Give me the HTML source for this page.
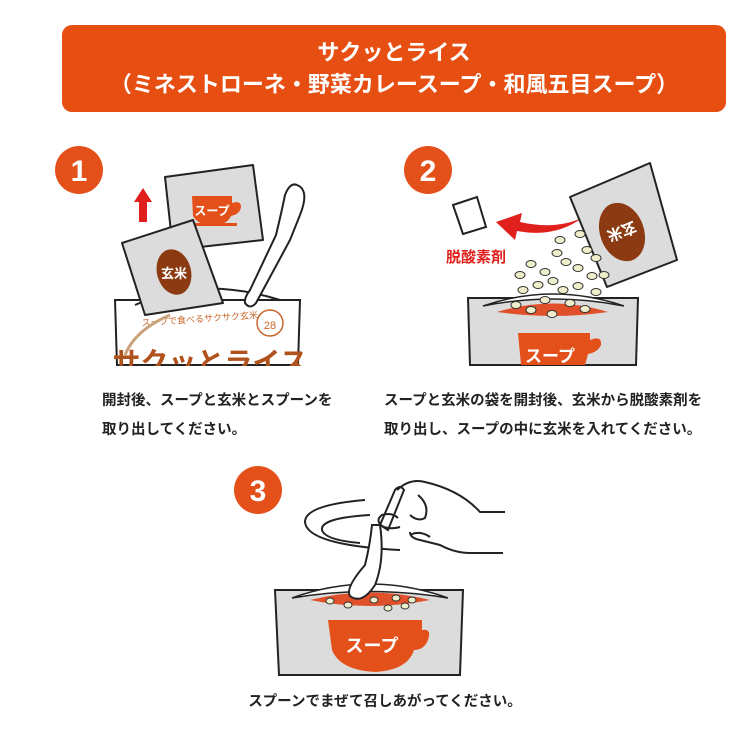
<!DOCTYPE html>
<html><head><meta charset="utf-8"><style>
body{margin:0;background:#fff;width:750px;height:750px;overflow:hidden}
svg{display:block}
text{font-family:"Liberation Sans","Noto Sans CJK JP",sans-serif}
</style></head><body>
<svg width="750" height="750" viewBox="0 0 750 750" xmlns="http://www.w3.org/2000/svg">
<defs><clipPath id="c1"><rect x="0" y="0" width="750" height="366"/></clipPath></defs>
<rect x="62" y="25" width="664" height="87" rx="10" fill="#e64e12"/>
<text x="394" y="60" font-size="22" font-weight="bold" fill="#fff" text-anchor="middle">サクッとライス</text>
<text x="394" y="92" font-size="22" font-weight="bold" fill="#fff" text-anchor="middle">（ミネストローネ・野菜カレースープ・和風五目スープ）</text>

<!-- Step 1 -->
<circle cx="79" cy="170" r="24" fill="#e4501a"/>
<text x="79" y="181" font-size="30" font-weight="bold" fill="#fff" text-anchor="middle">1</text>
<path d="M143 188 L134 202 L139 202 L139 222 L147 222 L147 202 L152 202 Z" fill="#e0201c"/>
<polygon points="165,177 253,165 263,240 173,250" fill="#dcdcdc" stroke="#222" stroke-width="2" stroke-linejoin="round"/>
<path d="M192 196 H232 V203 Q241 200 241 207 Q240 214 231 216 Q227 225 212 226 Q198 225 193 216 Z" fill="#e4501a"/>
<rect x="193" y="223" width="44" height="3" fill="#e4501a"/>
<text x="212" y="215" font-size="12" font-weight="bold" fill="#fff" text-anchor="middle">スープ</text>
<path d="M115 300 L300 300 L298 365 L117 365 Z" fill="#fff" stroke="#222" stroke-width="2"/>
<path d="M135 305 Q200 275 280 300" fill="none" stroke="#222" stroke-width="2"/>
<polygon points="122,243 193,220 223,303 145,315" fill="#dcdcdc" stroke="#222" stroke-width="2" stroke-linejoin="round"/>
<ellipse cx="174" cy="272" rx="17" ry="23" fill="#8b3a12" transform="rotate(-15 174 272)"/>
<text x="174" y="278" font-size="13" font-weight="bold" fill="#fff" text-anchor="middle">玄米</text>
<path d="M297 185 Q310 190 300 215 L290 240 L256 303 Q250 310 245 303 Q244 298 250 290 L276 235 Q282 210 285 195 Q290 182 297 185 Z" fill="#fff" stroke="#222" stroke-width="2"/>
<text x="200" y="322" font-size="9" fill="#c9662a" text-anchor="middle" transform="rotate(-4 200 322)">スープで食べるサクサク玄米</text>
<g clip-path="url(#c1)"><text x="210" y="372" font-size="28" font-weight="bold" fill="#b0521e" text-anchor="middle">サクッとライス</text></g>
<circle cx="270" cy="323" r="13" fill="none" stroke="#c9662a" stroke-width="1.5"/>
<text x="270" y="329" font-size="11" fill="#c9662a" text-anchor="middle">28</text>
<path d="M125 355 Q135 330 170 315" fill="none" stroke="#c9a27a" stroke-width="3"/>

<!-- Step 2 -->
<circle cx="428" cy="170" r="24" fill="#e4501a"/>
<text x="428" y="181" font-size="30" font-weight="bold" fill="#fff" text-anchor="middle">2</text>
<polygon points="453,205 477,197 486,227 463,234" fill="#fff" stroke="#222" stroke-width="2"/>
<path d="M582 218 Q555 230 520 222 L522 213 L496 222 L515 240 L517 231 Q555 238 582 218 Z" fill="#e0201c"/>
<text x="476" y="262" font-size="15" font-weight="bold" fill="#e0201c" text-anchor="middle">脱酸素剤</text>
<path d="M468 298 L638 298 L636 365 L470 365 Z" fill="#dcdcdc" stroke="#222" stroke-width="2"/>
<path d="M483 306 Q553 282 624 306 Q553 292 483 306 Z" fill="#fff" stroke="#222" stroke-width="1.5"/>
<path d="M497 312 Q553 295 608 312 Q553 320 497 312 Z" fill="#e0502a"/>
<path d="M518 333 H590 V340 Q602 335 601 345 Q598 352 588 354 L585 365 H521 Z" fill="#e4501a"/>
<text x="550" y="362" font-size="17" font-weight="bold" fill="#fff" text-anchor="middle">スープ</text>
<polygon points="570,197 650,163 677,260 607,287" fill="#dcdcdc" stroke="#222" stroke-width="2" stroke-linejoin="round"/>
<ellipse cx="622" cy="232" rx="22" ry="30" fill="#8b3a12" transform="rotate(-20 622 232)"/>
<text x="622" y="238" font-size="15" font-weight="bold" fill="#fff" text-anchor="middle" transform="rotate(160 622 232)">玄米</text>
<g fill="#efeecb" stroke="#333" stroke-width="1">
<ellipse cx="580" cy="234" rx="5" ry="3.5"/><ellipse cx="587" cy="250" rx="5" ry="3.5"/><ellipse cx="596" cy="258" rx="5" ry="3.5"/>
<ellipse cx="557" cy="253" rx="5" ry="3.5"/><ellipse cx="566" cy="262" rx="5" ry="3.5"/><ellipse cx="578" cy="268" rx="5" ry="3.5"/>
<ellipse cx="531" cy="264" rx="5" ry="3.5"/><ellipse cx="545" cy="272" rx="5" ry="3.5"/><ellipse cx="592" cy="276" rx="5" ry="3.5"/>
<ellipse cx="538" cy="285" rx="5" ry="3.5"/><ellipse cx="553" cy="281" rx="5" ry="3.5"/><ellipse cx="563" cy="290" rx="5" ry="3.5"/>
<ellipse cx="523" cy="290" rx="5" ry="3.5"/><ellipse cx="578" cy="286" rx="5" ry="3.5"/><ellipse cx="596" cy="292" rx="5" ry="3.5"/>
<ellipse cx="516" cy="305" rx="5" ry="3.5"/><ellipse cx="545" cy="300" rx="5" ry="3.5"/><ellipse cx="570" cy="303" rx="5" ry="3.5"/>
<ellipse cx="531" cy="310" rx="5" ry="3.5"/><ellipse cx="552" cy="314" rx="5" ry="3.5"/><ellipse cx="585" cy="309" rx="5" ry="3.5"/>
<ellipse cx="604" cy="275" rx="5" ry="3.5"/><ellipse cx="560" cy="240" rx="5" ry="3.5"/><ellipse cx="520" cy="275" rx="5" ry="3.5"/>
</g>

<!-- Step 3 -->
<circle cx="258" cy="490" r="24" fill="#e4501a"/>
<text x="258" y="501" font-size="30" font-weight="bold" fill="#fff" text-anchor="middle">3</text>
<path d="M365 500 Q305 505 305 522 Q307 545 400 550" fill="none" stroke="#222" stroke-width="2"/>
<path d="M370 515 Q320 518 322 530 Q325 540 360 543" fill="none" stroke="#222" stroke-width="2"/>
<path d="M275 590 L463 590 L460 675 L279 675 Z" fill="#dcdcdc" stroke="#222" stroke-width="2"/>
<path d="M292 598 Q369 570 448 598 Q369 585 292 598 Z" fill="#fff" stroke="#222" stroke-width="1.5"/>
<path d="M310 600 Q369 585 430 600 Q369 612 310 600 Z" fill="#e0502a"/>
<g fill="#efeecb" stroke="#333" stroke-width="1">
<ellipse cx="330" cy="601" rx="4" ry="3"/><ellipse cx="348" cy="605" rx="4" ry="3"/><ellipse cx="374" cy="600" rx="4" ry="3"/>
<ellipse cx="396" cy="598" rx="4" ry="3"/><ellipse cx="405" cy="606" rx="4" ry="3"/><ellipse cx="388" cy="608" rx="4" ry="3"/><ellipse cx="412" cy="600" rx="4" ry="3"/>
</g>
<path d="M328 620 H422 V630 Q432 628 428 640 Q424 650 414 650 Q408 670 375 672 Q340 670 332 650 Z" fill="#e4501a"/>
<text x="372" y="652" font-size="18" font-weight="bold" fill="#fff" text-anchor="middle">スープ</text>
<path d="M380 525 Q385 560 375 585 Q362 605 350 596 Q345 588 365 565 Q370 545 372 525 Z" fill="#fff" stroke="#222" stroke-width="2"/>
<path d="M380 525 L395 490 Q400 484 404 490 L388 530 Z" fill="#fff" stroke="#222" stroke-width="2"/>
<path d="M397 490 Q410 478 425 482 Q460 490 480 512 L505 512 M503 553 L470 553 Q455 553 440 545 L420 540 Q410 538 410 532 M400 527 Q390 530 382 526 Q375 520 382 515 Q392 512 398 518 M410 535 Q420 530 430 537" fill="none" stroke="#222" stroke-width="2"/>
<path d="M418 495 Q430 505 425 518 Q418 522 410 515" fill="none" stroke="#222" stroke-width="2"/>

<!-- texts -->
<g font-size="14.5" font-weight="bold" fill="#222">
<text x="102" y="405">開封後、スープと玄米とスプーンを</text>
<text x="102" y="434">取り出してください。</text>
<text x="384" y="405">スープと玄米の袋を開封後、玄米から脱酸素剤を</text>
<text x="384" y="434">取り出し、スープの中に玄米を入れてください。</text>
<text x="385" y="706" text-anchor="middle">スプーンでまぜて召しあがってください。</text>
</g>
</svg>
</body></html>
